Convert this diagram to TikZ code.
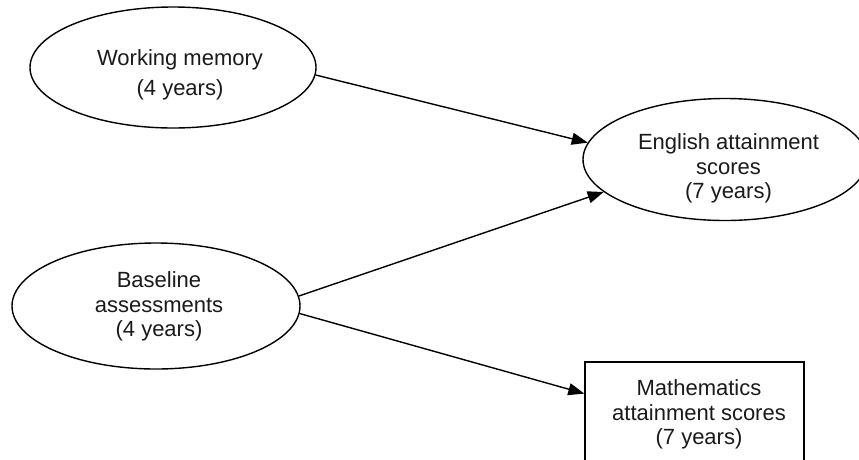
\documentclass[tikz,border=0pt]{standalone}
\usepackage{fontspec}
\setmainfont{Liberation Sans}
\usetikzlibrary{shapes.geometric,arrows.meta}
\definecolor{ink}{HTML}{1A1A1A}
\tikzset{
  bubble/.style={ellipse,draw=black,line width=1.4pt,inner sep=0pt},
  boxnode/.style={rectangle,draw=black,line width=1.4pt,inner sep=0pt},
  txt/.style={align=center,text=ink,inner sep=0pt,
    font=\fontsize{22}{24.5}\selectfont},
  link/.style={draw=black,line width=1.4pt,
    -{Triangle[length=16pt,width=12pt]},shorten >=0pt},
}
\begin{document}
\begin{tikzpicture}[x=1pt,y=-1pt]
  % page area; the right-hand nodes run past its edge
  \clip (0,0) rectangle (859,459);

  % shapes
  \node[bubble,minimum width=286pt,minimum height=121pt] (wm)   at (173,67.5) {};
  \node[bubble,minimum width=288pt,minimum height=126pt] (base) at (156,306) {};
  \node[bubble,minimum width=284pt,minimum height=122pt] (eng)  at (725,159.5) {};
  \node[boxnode,minimum width=219pt,minimum height=102pt] (math) at (694.5,413) {};

  % labels
  \node[txt] (wm-t)   at (180,75.3)   {Working memory\\[5.5pt](4 years)};
  \node[txt] (base-t) at (159,306.5)  {Baseline\\assessments\\(4 years)};
  \node[txt] (eng-t)  at (728.5,168.8){English attainment\\scores\\(7 years)};
  \node[txt] (math-t) at (699,414.8)  {Mathematics\\attainment scores\\(7 years)};

  % paths
  \draw[link] (wm.-3)  -- (eng.173);
  \draw[link] (base.4) -- (eng.195);
  \draw[link] (base.-3) -- (math.170);
\end{tikzpicture}
\end{document}
